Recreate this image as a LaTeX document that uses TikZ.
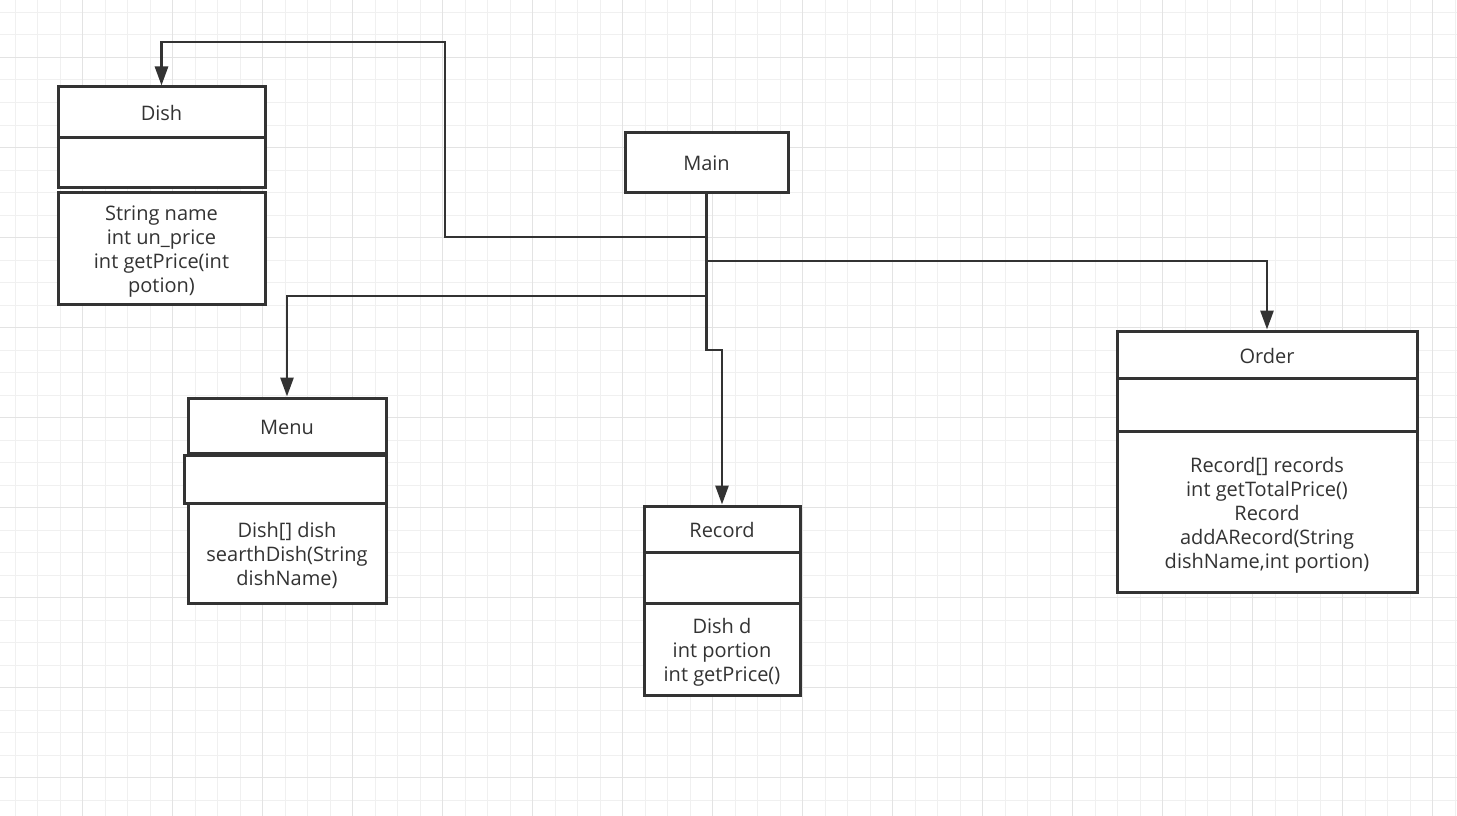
\documentclass[tikz,border=0pt]{standalone}
\usepackage{fontspec}
\setmainfont{Open Sans}
\usetikzlibrary{arrows.meta}
\definecolor{ink}{HTML}{333333}
\definecolor{gridminor}{HTML}{F0F0F0}
\definecolor{gridmajor}{HTML}{E3E3E3}
\newcommand{\cl}[1]{\raisebox{-4pt}[\height][\depth]{\begin{tabular}{@{}c@{}}#1\end{tabular}}}
\tikzset{
  cell/.style={draw=ink, line width=3pt, fill=white, text=ink, rectangle, inner sep=0pt,
    align=center, font=\fontsize{20}{24}\selectfont},
  conn/.style={draw=ink, line width=2.8pt, -{Triangle[length=19pt,width=13pt]}},
}
\begin{document}
\begin{tikzpicture}[x=1pt,y=-1pt]
\useasboundingbox (0,0) rectangle (1457,816);
\fill[white] (0,0) rectangle (1457,816);
% grid
\foreach \i in {-3,...,61} {
  \draw[gridminor, line width=1pt] ({82.5+22.5*\i},0) -- ({82.5+22.5*\i},816);
}
\foreach \j in {-2,...,33} {
  \draw[gridminor, line width=1pt] (0,{57.5+22.5*\j}) -- (1457,{57.5+22.5*\j});
}
\foreach \i in {0,4,...,60} {
  \draw[gridmajor, line width=1pt] ({82.5+22.5*\i},0) -- ({82.5+22.5*\i},816);
}
\foreach \j in {0,4,...,32} {
  \draw[gridmajor, line width=1pt] (0,{57.5+22.5*\j}) -- (1457,{57.5+22.5*\j});
}
% Dish
\node[cell, minimum width=207pt, minimum height=50pt] (dishT) at (161.5,112) {\cl{Dish}};
\node[cell, minimum width=207pt, minimum height=50pt] (dishA) at (161.5,162) {};
\node[cell, minimum width=207pt, minimum height=112pt] (dishM) at (161.5,248)
  {\cl{String name\\int un\_price\\int getPrice(int\\potion)}};
% Menu
\node[cell, minimum width=198pt, minimum height=55pt] (menuT) at (287,425.5) {\cl{Menu}};
\node[cell, minimum width=202pt, minimum height=48pt] (menuA) at (285,479) {};
\node[cell, minimum width=198pt, minimum height=100pt] (menuM) at (287,553)
  {\cl{Dish[] dish\\searthDish(String\\dishName)}};
% Main
\node[cell, minimum width=163pt, minimum height=60pt] (main) at (706.5,162) {\cl{Main}};
% Record
\node[cell, minimum width=156pt, minimum height=46pt] (recT) at (722,529) {\cl{Record}};
\node[cell, minimum width=156pt, minimum height=51pt] (recA) at (722,577.5) {};
\node[cell, minimum width=156pt, minimum height=92pt] (recM) at (722,649)
  {\cl{Dish d\\int portion\\int getPrice()}};
% Order
\node[cell, minimum width=300pt, minimum height=47pt] (ordT) at (1267,354.5) {\cl{Order}};
\node[cell, minimum width=300pt, minimum height=53pt] (ordA) at (1267,404.5) {};
\node[cell, minimum width=300pt, minimum height=161pt] (ordM) at (1267,511.5)
  {\cl{Record[] records\\int getTotalPrice()\\Record\\addARecord(String\\dishName,int portion)}};
% bend points
\coordinate (d1) at (445,237);
\coordinate (d2) at (445,42);
\coordinate (o1) at (1267,261);
\coordinate (m1) at (287,296);
\coordinate (r1) at (706.5,350);
% connectors
\draw[conn] (main.south) |- (d1) -- (d2) -| (dishT.north);
\draw[conn] (main.south) |- (o1) -- (ordT.north);
\draw[conn] (main.south) |- (m1) -- (menuT.north);
\draw[conn] (main.south) -- (r1) -| (recT.north);
\end{tikzpicture}
\end{document}
